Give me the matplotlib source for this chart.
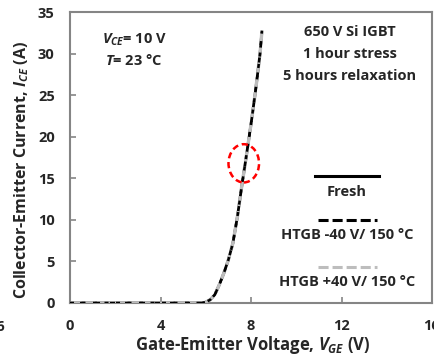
import matplotlib
matplotlib.use("Agg")
import matplotlib.pyplot as plt
from matplotlib.lines import Line2D
from matplotlib.patches import Ellipse

# transfer curves
vge_fresh = [0, 1, 2, 3, 4, 5, 5.8, 6.0, 6.2, 6.4, 6.6, 6.8, 7.0, 7.2, 7.4, 7.6, 7.8, 8.0, 8.2, 8.4, 8.48]
ice_fresh = [0, 0, 0, 0, 0, 0, 0, 0.1, 0.4, 1.0, 2.2, 3.6, 5.2, 7.2, 10.4, 14.2, 17.8, 21.5, 25.5, 30.0, 32.6]
vge_neg = [0, 1, 2, 3, 4, 5, 5.8, 6.0, 6.2, 6.4, 6.6, 6.8, 7.0, 7.2, 7.4, 7.6, 7.8, 8.0, 8.2, 8.4, 8.48]
ice_neg = [0, 0, 0, 0, 0, 0, 0, 0.1, 0.4, 1.0, 2.2, 3.6, 5.2, 7.2, 10.4, 14.2, 17.8, 21.5, 25.5, 30.0, 32.6]
vge_pos = [0, 1, 2, 3, 4, 5, 5.8, 6.0, 6.2, 6.4, 6.6, 6.8, 7.0, 7.2, 7.4, 7.6, 7.8, 8.0, 8.2, 8.4, 8.48]
ice_pos = [0, 0, 0, 0, 0, 0, 0, 0.1, 0.4, 1.0, 2.2, 3.6, 5.2, 7.2, 10.4, 14.2, 17.8, 21.5, 25.5, 30.0, 32.6]

x_ticks = [0, 4, 8, 12, 16]
y_ticks = [0, 5, 10, 15, 20, 25, 30, 35]
labels = ["Fresh", "HTGB -40 V/ 150 \u00b0C", "HTGB +40 V/ 150 \u00b0C"]

plt.rcParams['font.family'] = ['Open Sans', 'DejaVu Sans']
plt.rcParams['font.weight'] = 'bold'
plt.rcParams['axes.labelweight'] = 'bold'
plt.rcParams['mathtext.fontset'] = 'custom'
plt.rcParams['mathtext.it'] = 'Open Sans:italic:bold'
plt.rcParams['mathtext.rm'] = 'Open Sans:bold'
plt.rcParams['mathtext.bf'] = 'Open Sans:bold'

txt = '#262626'
spine = '#858585'
fs = 10.5

fig = plt.figure(figsize=(4.34, 3.58), dpi=100)
ax = fig.add_axes([70 / 434, 55 / 358, 362 / 434, 291 / 358])

ax.plot(vge_fresh, ice_fresh, color='black', lw=2.0, zorder=3)
ax.plot(vge_pos, ice_pos, color='#bdbdbd', lw=2.4, ls=(0, (3, 1.5)), zorder=4)
ax.plot(vge_neg, ice_neg, color='black', lw=1.8, ls=(0, (1.6, 3)), zorder=5)

ax.add_patch(Ellipse((7.68, 16.8), 1.35, 4.6, fill=False, ec='red', lw=1.8,
                     ls=(0, (2.5, 1.5)), zorder=6))

ax.set_xlim(0, 16)
ax.set_ylim(0, 35)
ax.set_xticks(x_ticks)
ax.set_yticks(y_ticks)
ax.tick_params(direction='in', length=4, width=1.2, color=spine, labelsize=fs,
               labelcolor=txt)
ax.tick_params(axis='x', pad=11.5)
ax.tick_params(axis='y', pad=11)
for s in ax.spines.values():
    s.set_color(spine)
    s.set_linewidth(1.5)

ax.set_xlabel(r'Gate-Emitter Voltage, $V_{GE}$ (V)', fontsize=12, color=txt)
ax.set_ylabel(r'Collector-Emitter Current, $I_{CE}$ (A)', fontsize=11.5, color=txt)
ax.xaxis.set_label_coords(0.505, -0.108)
ax.yaxis.set_label_coords(-0.108, 0.458)

# annotations
ax.text(0.177, 0.905, r'$V_{CE}$= 10 V', transform=ax.transAxes, ha='center',
        va='center', fontsize=fs, color=txt)
ax.text(0.177, 0.832, r'$T$= 23 ' + '\u00b0C', transform=ax.transAxes, ha='center',
        va='center', fontsize=fs, color=txt)
for i, line in enumerate(["650 V Si IGBT", "1 hour stress", "5 hours relaxation"]):
    ax.text(0.773, 0.931 - i * 0.076, line, transform=ax.transAxes, ha='center',
            va='center', fontsize=fs, color=txt)

# hand-drawn legend: sample line above each label
styles = [dict(color='black', lw=2.2),
          dict(color='black', lw=2.2, ls=(0, (3.3, 1.3))),
          dict(color='#bdbdbd', lw=2.2, ls=(0, (3.3, 1.3)))]
line_y = [0.436, 0.285, 0.124]
for st, lab, yy in zip(styles, labels, line_y):
    x0, x1 = (0.677, 0.854) if lab == "Fresh" else (0.685, 0.848)
    ax.add_line(Line2D([x0, x1], [yy, yy], transform=ax.transAxes, **st))
    ax.text(0.765, yy - 0.053, lab, transform=ax.transAxes, ha='center',
            va='center', fontsize=fs, color=txt)

# partial label of neighbouring panel at far left
fig.text(5 / 434, 1 - 327 / 358, "16", ha='right', va='center', fontsize=fs, color=txt)

fig.savefig("out.png", dpi=100)
